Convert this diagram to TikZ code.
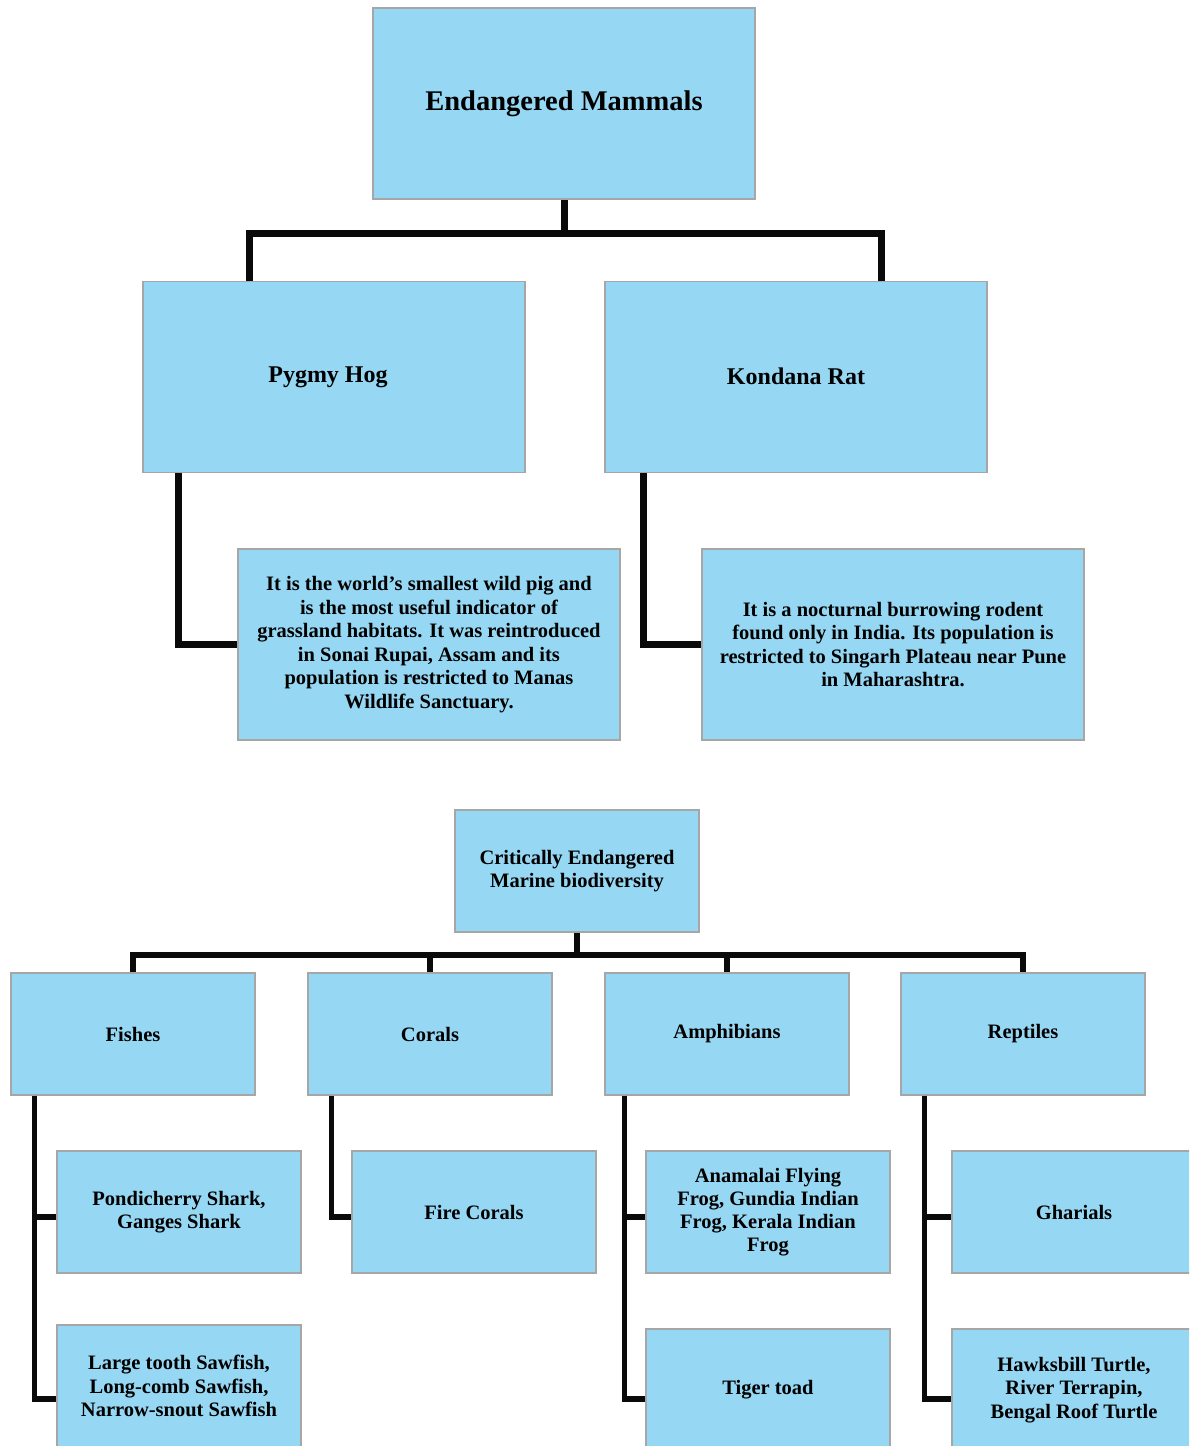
\documentclass[tikz,border=0pt]{standalone}
\usepackage{fontspec}
\setmainfont{Liberation Serif}
\definecolor{boxfill}{RGB}{150,216,244}
\definecolor{boxline}{RGB}{166,166,166}
\definecolor{connc}{RGB}{10,10,10}
\tikzset{
  box/.style={draw=boxline, fill=boxfill, line width=1.2pt, inner sep=0pt, align=center, text=black},
  bigbox/.style={box, minimum width=382pt, minimum height=191pt},
  smallbox/.style={box, minimum width=244pt, minimum height=122pt},
  titlefont/.style={font=\fontsize{28.5}{34}\selectfont\bfseries},
  headfont/.style={font=\fontsize{24}{29}\selectfont\bfseries},
  descfont/.style={font=\fontsize{20.5}{23.6}\selectfont\bfseries},
  lowfont/.style={font=\fontsize{20.5}{23.2}\selectfont\bfseries},
  topconn/.style={draw=connc, line width=7pt, line join=miter},
  lowconn/.style={draw=connc, line width=5.5pt, line join=miter}
}
\begin{document}
\begin{tikzpicture}[x=1pt,y=-1pt]
\useasboundingbox (0,0) rectangle (1189,1446);
\clip (0,0) rectangle (1189,1446);
\fill[white] (0,0) rectangle (1189,1446);

% ---------- upper tree nodes ----------
\node[bigbox, titlefont] (em) at (564,103.5) {\raisebox{4pt}{Endangered Mammals}};
\node[bigbox, headfont] (ph) at (334,377) {\hspace*{-12pt}Pygmy Hog};
\node[bigbox, headfont] (kr) at (796,377) {\raisebox{2pt}{Kondana Rat}};
\node[bigbox, descfont] (phd) at (429,644.5) {\raisebox{-4pt}{\parbox{380pt}{\centering It is the world’s smallest wild pig and\\is the most useful indicator of\\grassland habitats. It was reintroduced\\in Sonai Rupai, Assam and its\\population is restricted to Manas\\Wildlife Sanctuary.}}};
\node[bigbox, descfont] (krd) at (893,644.5) {It is a nocturnal burrowing rodent\\found only in India. Its population is\\restricted to Singarh Plateau near Pune\\in Maharashtra.};

% ---------- lower tree nodes ----------
\node[smallbox, lowfont] (ce) at (577,871) {Critically Endangered\\Marine biodiversity};
\node[smallbox, lowfont] (fi) at (133,1034) {Fishes};
\node[smallbox, lowfont] (co) at (430,1034) {Corals};
\node[smallbox, lowfont] (am) at (727,1034) {Amphibians};
\node[smallbox, lowfont] (re) at (1023,1034) {Reptiles};
\node[smallbox, lowfont] (pon) at (179,1212) {Pondicherry Shark,\\Ganges Shark};
\node[smallbox, lowfont] (lts) at (179,1386) {Large tooth Sawfish,\\Long-comb Sawfish,\\Narrow-snout Sawfish};
\node[smallbox, lowfont] (fc) at (474,1212) {Fire Corals};
\node[smallbox, lowfont] (ana) at (768,1212) {Anamalai Flying\\Frog, Gundia Indian\\Frog, Kerala Indian\\Frog};
\node[smallbox, lowfont] (tt) at (768,1390) {Tiger toad};
\node[smallbox, lowfont] (gh) at (1074,1212) {Gharials};
\node[smallbox, lowfont] (hb) at (1074,1390) {Hawksbill Turtle,\\River Terrapin,\\Bengal Roof Turtle};

% ---------- connectors ----------
\coordinate (bar) at (564,233);
\coordinate (bar2) at (577,955);
\draw[topconn] (em.south) -- (bar);
\draw[topconn] ([xshift=107pt]ph.north west) |- (bar) -| ([xshift=-106pt]kr.north east);
\draw[topconn] ([xshift=36pt]ph.south west) |- (phd.west);
\draw[topconn] ([xshift=39pt]kr.south west) |- (krd.west);

\draw[lowconn] (ce.south) -- (bar2);
\draw[lowconn] (fi.north) |- (bar2) -| (re.north);
\draw[lowconn] (co.north) -- (co.north |- bar2);
\draw[lowconn] (am.north) -- (am.north |- bar2);
\draw[lowconn] ([xshift=24pt]fi.south west) |- ([yshift=-5pt]pon.west);
\draw[lowconn] ([xshift=24pt]fi.south west) |- ([yshift=-13pt]lts.west);
\draw[lowconn] ([xshift=24pt]co.south west) |- ([yshift=-5pt]fc.west);
\draw[lowconn] ([xshift=20pt]am.south west) |- ([yshift=-5pt]ana.west);
\draw[lowconn] ([xshift=20pt]am.south west) |- ([yshift=-9pt]tt.west);
\draw[lowconn] ([xshift=24pt]re.south west) |- ([yshift=-5pt]gh.west);
\draw[lowconn] ([xshift=24pt]re.south west) |- ([yshift=-9pt]hb.west);
\end{tikzpicture}
\end{document}
